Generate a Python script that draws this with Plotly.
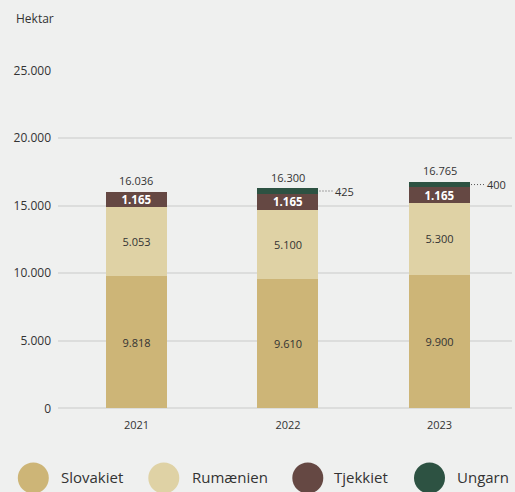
import plotly.graph_objects as go

# ---- data ----
years = ["2021", "2022", "2023"]
series_names = ["Slovakiet", "Rumænien", "Tjekkiet", "Ungarn"]
slovakiet = [9818, 9610, 9900]
rumaenien = [5053, 5100, 5300]
tjekkiet = [1165, 1165, 1165]
ungarn = [0, 425, 400]
y_ticks = [0, 5000, 10000, 15000, 20000, 25000]
y_title = "Hektar"

colors = ["#cdb577", "#dfd2a5", "#654843", "#2d5242"]
values = [slovakiet, rumaenien, tjekkiet, ungarn]
totals = [sum(v) for v in zip(*values)]

FONT = "Open Sans"
TXT = "#333333"
BG = "#eff0ef"

# layout geometry (pixels)
L, R, T, B = 58, 3, 70, 83
W, H = 515, 492
PW, PH = W - L - R, H - T - B


def px_x(px):
    return (px - L) / PW


def px_y(py):
    return (H - B - py) / PH


fig = go.Figure()
for k, (name, vals, col) in enumerate(zip(series_names, values, colors)):
    if k in (0, 1):
        kw = dict(texttemplate="%{y:,}", textposition="inside",
                  insidetextanchor="middle",
                  insidetextfont=dict(family=FONT, size=11, color=TXT))
    elif k == 2:
        kw = dict(texttemplate="<b>%{y:,}</b>", textposition="inside",
                  insidetextanchor="middle", constraintext="none",
                  insidetextfont=dict(family=FONT, size=11.5, color="white"))
    else:
        kw = dict(textposition="none")
    fig.add_trace(go.Bar(x=years, y=vals, name=name, marker_color=col,
                         marker_line_width=0, showlegend=False,
                         hoverinfo="skip", **kw))

annotations = []
shapes = []

# totals
for i, t in enumerate(totals):
    annotations.append(dict(x=i, y=t, xref="x", yref="y",
                            text=f"{t:,}".replace(",", "."), showarrow=False,
                            yanchor="middle", yshift=11,
                            font=dict(family=FONT, size=11, color=TXT)))

# Ungarn leader labels
for i, u in enumerate(ungarn):
    if u > 0:
        ymid = totals[i] - u / 2
        shapes.append(dict(type="line", xref="x", yref="y",
                           x0=i + 31.5 / 151.5, x1=i + 45.5 / 151.5,
                           y0=ymid, y1=ymid,
                           line=dict(color="#555555", width=1,
                                     dash="1px,2px")))
        annotations.append(dict(x=i, y=ymid, xref="x", yref="y",
                                text=f"{u:,}".replace(",", "."),
                                showarrow=False, xanchor="left",
                                yanchor="middle", xshift=45,
                                font=dict(family=FONT, size=11, color=TXT)))

# y axis title
annotations.append(dict(x=px_x(14), y=px_y(19), xref="paper", yref="paper",
                        text=y_title, showarrow=False, xanchor="left",
                        yanchor="middle",
                        font=dict(family=FONT, size=12, color=TXT)))

# custom legend
leg_circle_x = [33.3, 163.8, 307.8, 429.5]
leg_text_x = [59, 189.5, 332, 455]
leg_y = 478
for name, col, cx, tx in zip(series_names, colors, leg_circle_x, leg_text_x):
    shapes.append(dict(type="circle", xref="paper", yref="paper",
                       xsizemode="pixel", ysizemode="pixel",
                       xanchor=px_x(cx), yanchor=px_y(leg_y),
                       x0=-15.5, x1=15.5, y0=-15.5, y1=15.5,
                       fillcolor=col, line=dict(width=0)))
    annotations.append(dict(x=px_x(tx), y=px_y(leg_y - 1), xref="paper",
                            yref="paper", text=name, showarrow=False,
                            xanchor="left", yanchor="middle",
                            font=dict(family=FONT, size=15, color=TXT)))

fig.update_layout(
    width=W, height=H,
    margin=dict(l=L, r=R, t=T, b=B),
    paper_bgcolor=BG, plot_bgcolor=BG,
    barmode="stack", bargap=0.5974,
    separators=",.",
    font=dict(family=FONT, size=11, color=TXT),
    annotations=annotations, shapes=shapes,
    xaxis=dict(type="category", range=[-0.518, 2.4785], showgrid=False,
               showline=False, ticks="", zeroline=False,
               ticklabelstandoff=8,
               tickfont=dict(family=FONT, size=11, color=TXT)),
    yaxis=dict(range=[-40, 25040], tickvals=y_ticks, tickformat=",d",
               showgrid=True, gridcolor="#dcdddc", gridwidth=1.5,
               zeroline=True, zerolinecolor="#dcdddc", zerolinewidth=1.5,
               showline=False, ticks="", ticklabelstandoff=6,
               tickfont=dict(family=FONT, size=12, color=TXT)),
)

fig.write_html("out.html", config={"displayModeBar": False},
               post_script="document.body.style.margin='0';"
                           "document.body.style.overflow='hidden';"
                           "document.body.style.background='" + BG + "';")
